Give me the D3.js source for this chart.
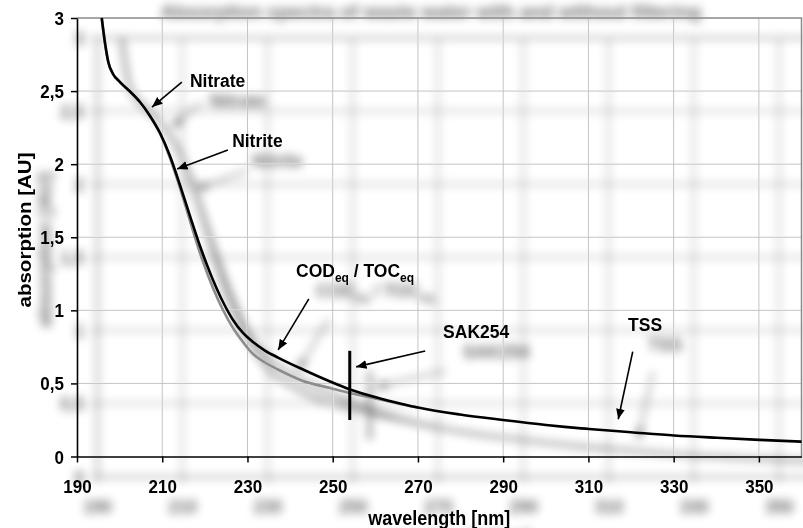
<!DOCTYPE html>
<html><head><meta charset="utf-8">
<script src="https://cdn.jsdelivr.net/npm/d3@7"></script>
<style>
html,body{margin:0;padding:0;background:#fff;}
svg{display:block;font-family:"Liberation Sans",Arial,sans-serif;font-weight:bold;}
</style></head><body>
<div id="chart"></div>
<script>
// ---- data ----
const titleText = "Absorption spectra of waste water with and without filtering";
const xTicks = [190, 210, 230, 250, 270, 290, 310, 330, 350];
const yTicks = [0, 0.5, 1, 1.5, 2, 2.5, 3];
const yTickLabels = ["0", "0,5", "1", "1,5", "2", "2,5", "3"];
const xTitle = "wavelength [nm]";
const yTitle = "absorption [AU]";
// unfiltered sample (black)
const wlRaw = [195.80, 196.57, 197.34, 198.45, 200.09, 202.44, 204.78, 207.13, 209.48, 211.82, 214.17, 216.52, 218.86, 221.91, 224.26, 226.61, 228.95, 231.30, 234.11, 237.16, 243.03, 249.37, 254.06, 261.10, 265.79, 270.01, 279.87, 289.96, 300.05, 310.14, 319.99, 330.08, 340.17, 350.14, 360.00];
const absRaw = [3.000, 2.829, 2.699, 2.617, 2.562, 2.497, 2.425, 2.330, 2.213, 2.056, 1.857, 1.645, 1.440, 1.208, 1.057, 0.934, 0.845, 0.783, 0.725, 0.677, 0.595, 0.513, 0.458, 0.397, 0.363, 0.335, 0.287, 0.250, 0.216, 0.188, 0.166, 0.144, 0.128, 0.114, 0.102];
// filtered sample (grey)
const wlFilt = [195.80, 196.57, 197.34, 198.45, 200.09, 202.44, 204.78, 207.13, 209.48, 211.82, 214.17, 216.52, 218.86, 221.91, 224.26, 226.61, 228.95, 231.30, 234.11, 237.16, 243.03, 249.37, 254.06, 261.10, 265.79, 270.01];
const absFilt = [3.000, 2.829, 2.699, 2.617, 2.562, 2.497, 2.425, 2.330, 2.210, 2.042, 1.837, 1.611, 1.392, 1.153, 1.002, 0.879, 0.783, 0.701, 0.643, 0.595, 0.517, 0.469, 0.434, 0.390, 0.359, 0.333];
// SAK254 marker
const sakWl = 254;
const sakRange = [0.25, 0.723];
// annotations: label, text position [wl, abs], arrow start [wl, abs], arrow tip [wl, abs]
const annotations = [
  {label: "Nitrate", text: [216.5, 2.531], from: [214.6, 2.562], to: [207.6, 2.391]},
  {label: "Nitrite", text: [226.4, 2.117], from: [225.4, 2.097], to: [213.5, 1.967]},
  {label: "COD", sub1: "eq", mid: " / TOC", sub2: "eq", text: [241.4, 1.228], from: [244.4, 1.078], to: [237.2, 0.729]},
  {label: "SAK254", text: [275.9, 0.811], from: [271.7, 0.722], to: [255.5, 0.613]},
  {label: "TSS", text: [319.3, 0.859], from: [320.4, 0.717], to: [317.0, 0.255]}
];

// ---- layout ----
const W = 803, H = 528;
const x = d3.scaleLinear().domain([190, 360]).range([77, 801.5]);
const y = d3.scaleLinear().domain([0, 3]).range([456.5, 18]);
const SY = 1.08;

const svg = d3.select("#chart").append("svg").attr("width", W).attr("height", H);
const defs = svg.append("defs");
const f = defs.append("filter").attr("id", "shadow").attr("filterUnits", "userSpaceOnUse")
  .attr("x", -60).attr("y", -60).attr("width", W + 120).attr("height", H + 120);
f.append("feGaussianBlur").attr("in", "SourceAlpha").attr("stdDeviation", 5).attr("result", "b");
f.append("feOffset").attr("in", "b").attr("dx", 20).attr("dy", 20).attr("result", "o");
f.append("feComponentTransfer").attr("in", "o").attr("result", "o2")
  .append("feFuncA").attr("type", "linear").attr("slope", 0.6);
const m = f.append("feMerge");
m.append("feMergeNode").attr("in", "o2");
m.append("feMergeNode").attr("in", "SourceGraphic");

const fb = defs.append("filter").attr("id", "blurOnly").attr("filterUnits", "userSpaceOnUse")
  .attr("x", -60).attr("y", -60).attr("width", W + 120).attr("height", H + 120);
fb.append("feGaussianBlur").attr("in", "SourceGraphic").attr("stdDeviation", 5);

defs.append("marker").attr("id", "arrow").attr("viewBox", "0 0 10 10")
  .attr("refX", 10).attr("refY", 5).attr("markerWidth", 6.5).attr("markerHeight", 6.5)
  .attr("markerUnits", "strokeWidth").attr("orient", "auto")
  .append("path").attr("d", "M0,0.8 L10,5 L0,9.2 Z").attr("fill", "#000");

svg.append("rect").attr("width", W).attr("height", H).attr("fill", "#fff");

// title: only its soft shadow is visible in the original
svg.append("text").attr("x", 431).attr("y", 18).attr("text-anchor", "middle")
  .attr("font-size", 19).attr("fill", "#000").attr("fill-opacity", 0.6)
  .attr("filter", "url(#blurOnly)").text(titleText);

const g = svg.append("g").attr("filter", "url(#shadow)");

// grid
g.append("g").selectAll("line").data(xTicks.slice(1)).join("line")
  .attr("x1", d => x(d)).attr("x2", d => x(d)).attr("y1", y(3)).attr("y2", y(0))
  .attr("stroke", "#c4c4c4").attr("stroke-width", 1);
g.append("g").selectAll("line").data(yTicks.slice(1, -1)).join("line")
  .attr("x1", x(190)).attr("x2", x(360)).attr("y1", d => y(d)).attr("y2", d => y(d))
  .attr("stroke", "#c4c4c4").attr("stroke-width", 1);
// frame top / right
g.append("path").attr("d", `M${x(190)},${y(3)} H${x(360)} V${y(0)}`)
  .attr("fill", "none").attr("stroke", "#8a8a8a").attr("stroke-width", 1.5);

// curves
const line = d3.line().x(d => x(d[0])).y(d => y(d[1])).curve(d3.curveMonotoneX);
g.append("path").datum(wlFilt.map((w, i) => [w, absFilt[i]])).attr("d", line)
  .attr("fill", "none").attr("stroke", "#8c8c8c").attr("stroke-width", 2.6);
g.append("path").datum(wlRaw.map((w, i) => [w, absRaw[i]])).attr("d", line)
  .attr("fill", "none").attr("stroke", "#000").attr("stroke-width", 2.6);

// SAK bar
g.append("line").attr("x1", x(sakWl)).attr("x2", x(sakWl))
  .attr("y1", y(sakRange[1])).attr("y2", y(sakRange[0]))
  .attr("stroke", "#000").attr("stroke-width", 3);

// axes
const xAxis = g.append("g").attr("transform", `translate(0,${y(0)})`)
  .call(d3.axisBottom(x).tickValues(xTicks).tickSize(6).tickSizeOuter(0).tickFormat(d3.format("d")));
xAxis.selectAll("text").attr("y", 0).attr("dy", 0)
  .attr("transform", `translate(0,36) scale(1,${SY})`)
  .attr("font-size", 17).attr("font-family", "Liberation Sans, Arial, sans-serif").attr("font-weight", "bold").attr("fill", "#000");
const yAxis = g.append("g").attr("transform", `translate(${x(190)},0)`)
  .call(d3.axisLeft(y).tickValues(yTicks).tickSize(6).tickSizeOuter(0).tickFormat((d, i) => yTickLabels[i]));
yAxis.selectAll("text").attr("x", 0).attr("dy", 0)
  .attr("transform", `translate(-13,6.5) scale(1,${SY})`)
  .attr("font-size", 17).attr("font-family", "Liberation Sans, Arial, sans-serif").attr("font-weight", "bold").attr("fill", "#000");
[xAxis, yAxis].forEach(a => {
  a.select(".domain").attr("stroke", "#000").attr("stroke-width", 1.6);
  a.selectAll(".tick line").attr("stroke", "#000").attr("stroke-width", 1.5);
});

// axis titles
g.append("text").attr("transform", `translate(${(x(190) + x(360)) / 2},525) scale(1,${SY})`)
  .attr("text-anchor", "middle").attr("font-size", 18).text(xTitle);
g.append("text").attr("transform", `translate(31,230) rotate(-90) scale(${SY},1)`)
  .attr("text-anchor", "middle").attr("font-size", 19).text(yTitle);

// annotations
annotations.forEach(a => {
  const t = g.append("text").attr("transform", `translate(${x(a.text[0])},${y(a.text[1])}) scale(1,${SY})`)
    .attr("font-size", 17.5);
  t.append("tspan").text(a.label);
  if (a.sub1) {
    t.append("tspan").attr("font-size", 12).attr("dy", 5).text(a.sub1);
    t.append("tspan").attr("dy", -5).text(a.mid);
    t.append("tspan").attr("font-size", 12).attr("dy", 5).text(a.sub2);
  }
  g.append("line").attr("x1", x(a.from[0])).attr("y1", y(a.from[1]))
    .attr("x2", x(a.to[0])).attr("y2", y(a.to[1]))
    .attr("stroke", "#000").attr("stroke-width", 1.6).attr("marker-end", "url(#arrow)");
});
</script>
</body></html>
